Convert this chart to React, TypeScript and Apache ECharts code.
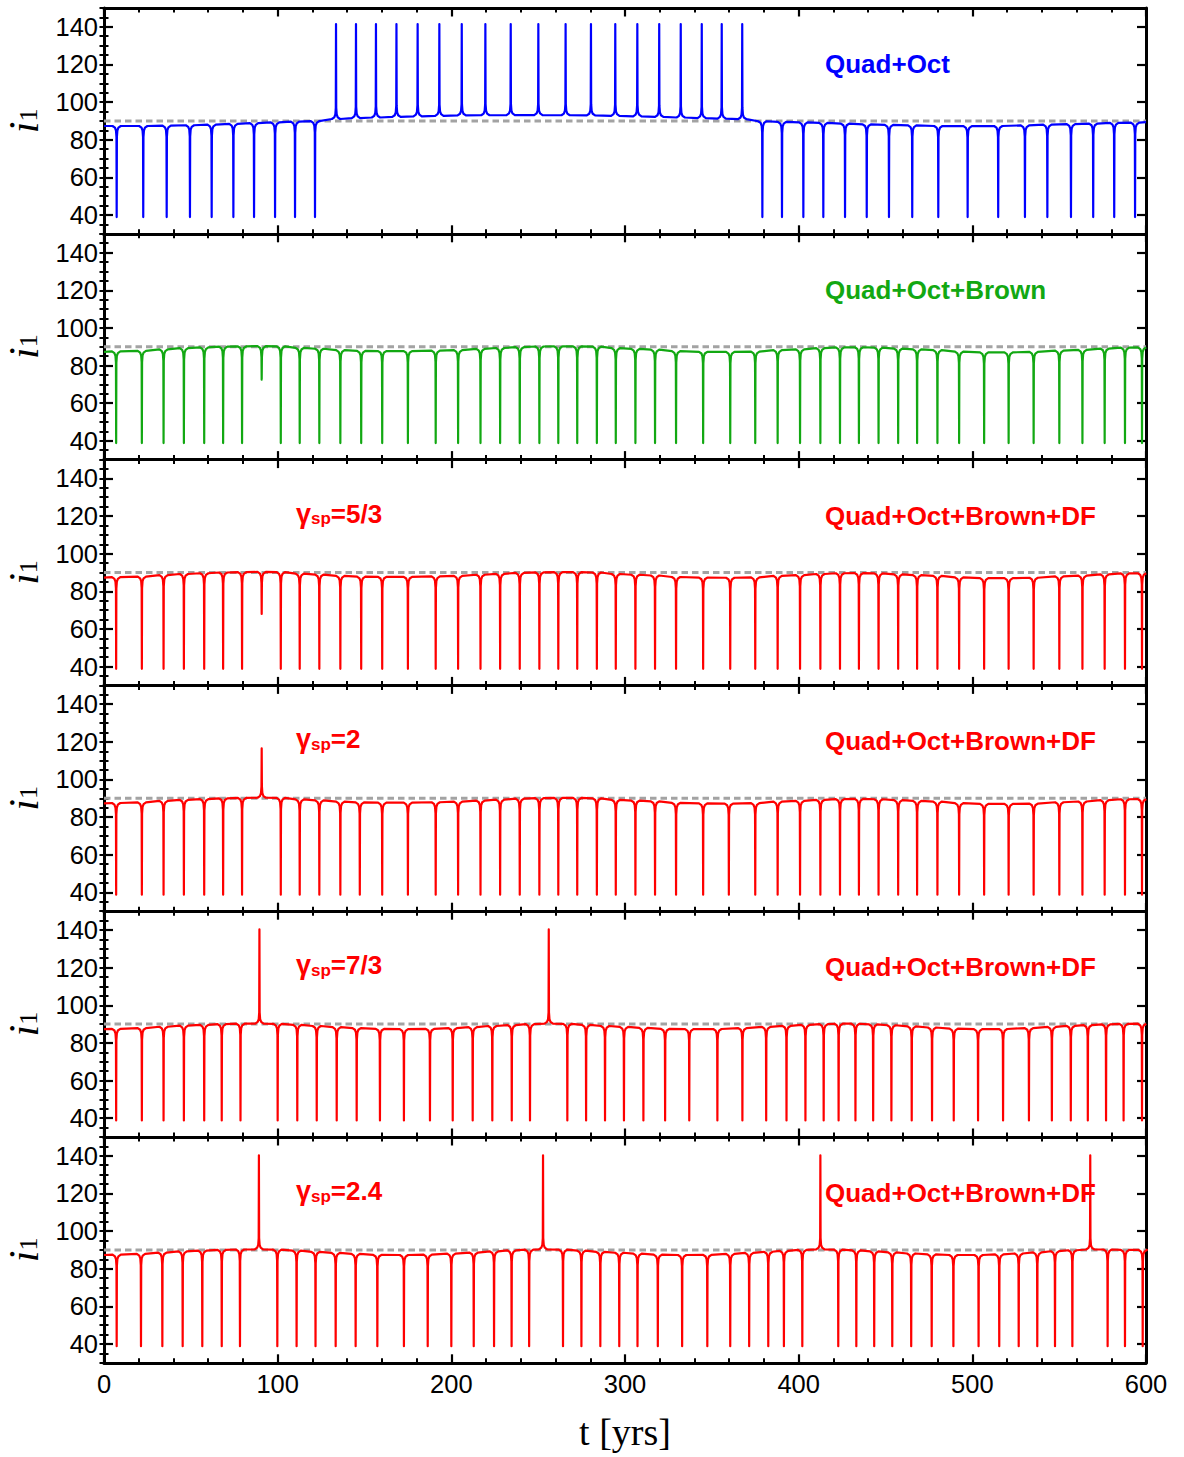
import React, { useEffect, useRef } from "react";
import * as echarts from "echarts";

type Ev = [number, number, number]; // [time, baseline level, extreme value]

const X_MIN = 0;
const X_MAX = 600;
const X_INTERVAL = 100;
const Y_MIN = 30;
const Y_MAX = 150;
const Y_MINOR = 5;
const Y_TICKS = [40, 60, 80, 100, 120, 140];
const REF_LEVEL = 90;

const P1_START = 87.3;
const P1_END = 89.3;
const P1_EVENTS: Ev[] = [
  [7.3, 87.3, 38.9], [22.6, 87.3, 38.9], [36.1, 87.5, 38.9], [49.5, 87.7, 38.9], [62.0, 88.0, 38.9],
  [74.5, 88.4, 38.9], [86.4, 88.8, 38.9], [98.5, 89.2, 38.9], [110.0, 89.6, 38.9], [121.5, 89.9, 38.9],
  [133.6, 91.0, 141.5], [145.1, 91.5, 141.5], [156.6, 91.8, 141.5], [168.4, 92.1, 141.5], [180.6, 92.4, 141.5],
  [193.1, 92.7, 141.5], [206.0, 92.9, 141.5], [219.6, 93.0, 141.5], [234.2, 93.1, 141.5], [250.1, 93.1, 141.5],
  [265.8, 93.0, 141.5], [280.4, 92.9, 141.5], [294.4, 92.7, 141.5], [307.1, 92.4, 141.5], [319.7, 92.1, 141.5],
  [332.1, 91.8, 141.5], [344.2, 91.5, 141.5], [355.7, 91.2, 141.5], [367.5, 90.9, 141.5],
  [379.1, 89.8, 38.9], [390.4, 89.5, 38.9], [402.7, 89.2, 38.9], [414.2, 88.9, 38.9], [426.7, 88.6, 38.9],
  [439.2, 88.2, 38.9], [452.0, 87.9, 38.9], [465.4, 87.6, 38.9], [480.4, 87.3, 38.9], [497.3, 87.2, 38.9],
  [514.9, 87.3, 38.9], [530.3, 87.6, 38.9], [543.2, 88.0, 38.9], [556.8, 88.3, 38.9], [569.6, 88.6, 38.9],
  [581.7, 88.9, 38.9], [593.7, 89.1, 38.9],
];

const P2_START = 87.3;
const P2_END = 89.6;
const P2_EVENTS: Ev[] = [
  [7.0, 87.5, 38.8], [21.8, 87.8, 38.8], [34.3, 88.6, 38.8], [46.0, 89.2, 38.8], [57.7, 89.6, 38.8],
  [68.6, 90.0, 38.8], [79.5, 90.2, 38.8], [90.8, 90.3, 72.5], [101.8, 90.2, 38.8], [112.7, 89.4, 38.8],
  [124.0, 88.9, 38.8], [136.1, 88.2, 38.8], [148.1, 87.8, 38.8], [160.2, 87.7, 38.8], [175.0, 87.7, 38.8],
  [191.0, 87.9, 38.8], [203.9, 88.2, 38.8], [216.8, 88.8, 38.8], [228.1, 89.3, 38.8], [239.4, 89.8, 38.8],
  [250.7, 90.1, 38.8], [261.6, 90.2, 38.8], [272.5, 90.2, 38.8], [283.8, 90.0, 38.8], [294.7, 89.2, 38.8],
  [306.0, 88.8, 38.8], [317.3, 88.4, 38.8], [329.4, 87.6, 38.8], [345.0, 87.3, 38.8], [360.6, 87.2, 38.8],
  [375.0, 87.4, 38.8], [387.9, 88.2, 38.8], [400.8, 88.6, 38.8], [412.5, 89.2, 38.8], [423.8, 89.6, 38.8],
  [434.7, 89.7, 38.8], [446.0, 89.5, 38.8], [457.3, 89.0, 38.8], [468.2, 88.6, 38.8], [479.9, 88.2, 38.8],
  [492.4, 87.4, 38.8], [506.8, 87.0, 38.8], [520.9, 87.0, 38.8], [535.3, 87.2, 38.8], [550.1, 87.9, 38.8],
  [563.4, 88.3, 38.8], [576.2, 89.0, 38.8], [587.9, 89.5, 38.8], [597.7, 89.6, 38.8],
];

const P3_START = 87.3;
const P3_END = 89.6;
const P3_EVENTS: Ev[] = [
  [7.0, 87.5, 38.8], [21.8, 87.8, 38.8], [34.3, 88.6, 38.8], [46.0, 89.2, 38.8], [57.7, 89.6, 38.8],
  [68.6, 90.0, 38.8], [79.5, 90.2, 38.8], [90.8, 90.3, 68.0], [101.8, 90.2, 38.8], [112.7, 89.4, 38.8],
  [124.0, 88.9, 38.8], [136.1, 88.2, 38.8], [148.1, 87.8, 38.8], [160.2, 87.7, 38.8], [175.0, 87.7, 38.8],
  [191.0, 87.9, 38.8], [203.9, 88.2, 38.8], [216.8, 88.8, 38.8], [228.1, 89.3, 38.8], [239.4, 89.8, 38.8],
  [250.7, 90.1, 38.8], [261.6, 90.2, 38.8], [272.5, 90.2, 38.8], [283.8, 90.0, 38.8], [294.7, 89.2, 38.8],
  [306.0, 88.8, 38.8], [317.3, 88.4, 38.8], [329.4, 87.6, 38.8], [345.0, 87.3, 38.8], [360.6, 87.2, 38.8],
  [375.0, 87.4, 38.8], [387.9, 88.2, 38.8], [400.8, 88.6, 38.8], [412.5, 89.2, 38.8], [423.8, 89.6, 38.8],
  [434.7, 89.7, 38.8], [446.0, 89.5, 38.8], [457.3, 89.0, 38.8], [468.2, 88.6, 38.8], [479.9, 88.2, 38.8],
  [492.4, 87.4, 38.8], [506.8, 87.0, 38.8], [520.9, 87.0, 38.8], [535.3, 87.2, 38.8], [550.1, 87.9, 38.8],
  [563.4, 88.3, 38.8], [576.2, 89.0, 38.8], [587.9, 89.5, 38.8], [597.7, 89.6, 38.8],
];

const P4_START = 87.3;
const P4_END = 89.6;
const P4_EVENTS: Ev[] = [
  [7.0, 87.5, 38.8], [21.8, 87.8, 38.8], [34.3, 88.6, 38.8], [46.0, 89.2, 38.8], [57.7, 89.6, 38.8],
  [68.6, 90.0, 38.8], [79.5, 90.2, 38.8], [90.8, 90.3, 116.5], [101.8, 90.2, 38.8], [112.7, 89.4, 38.8],
  [124.0, 88.9, 38.8], [136.1, 88.2, 38.8], [147.3, 87.8, 38.8], [160.2, 87.7, 38.8], [175.0, 87.7, 38.8],
  [191.0, 87.9, 38.8], [203.9, 88.2, 38.8], [216.8, 88.8, 38.8], [228.1, 89.3, 38.8], [239.4, 89.8, 38.8],
  [250.7, 90.1, 38.8], [261.6, 90.2, 38.8], [272.5, 90.2, 38.8], [283.8, 90.0, 38.8], [294.7, 89.2, 38.8],
  [306.0, 88.8, 38.8], [317.3, 88.4, 38.8], [329.4, 87.6, 38.8], [345.0, 87.3, 38.8], [359.8, 87.2, 38.8],
  [375.0, 87.4, 38.8], [387.9, 88.2, 38.8], [400.8, 88.6, 38.8], [412.5, 89.2, 38.8], [423.8, 89.6, 38.8],
  [434.7, 89.7, 38.8], [446.0, 89.5, 38.8], [457.3, 89.0, 38.8], [468.2, 88.6, 38.8], [479.9, 88.2, 38.8],
  [492.4, 87.4, 38.8], [506.8, 87.0, 38.8], [520.9, 87.0, 38.8], [535.3, 87.2, 38.8], [550.1, 87.9, 38.8],
  [563.4, 88.3, 38.8], [576.2, 89.0, 38.8], [587.9, 89.5, 38.8], [597.7, 89.6, 38.8],
];

const P5_START = 87.3;
const P5_END = 90.2;
const P5_EVENTS: Ev[] = [
  [7.0, 87.5, 38.8], [21.8, 87.9, 38.8], [34.3, 88.6, 38.8], [46.0, 89.2, 38.8], [57.7, 89.6, 38.8],
  [67.8, 90.0, 38.8], [78.6, 90.2, 38.8], [89.5, 90.3, 140.3], [100.0, 90.1, 38.8], [111.3, 89.6, 38.8],
  [122.5, 89.0, 38.8], [134.0, 88.4, 38.8], [145.5, 87.9, 38.8], [158.9, 87.5, 38.8], [172.7, 87.3, 38.8],
  [187.7, 87.5, 38.8], [200.8, 87.9, 38.8], [212.3, 88.4, 38.8], [223.6, 89.0, 38.8], [234.8, 89.5, 38.8],
  [245.3, 90.0, 38.8], [256.1, 90.3, 140.3], [266.8, 90.1, 38.8], [277.6, 89.6, 38.8], [288.5, 89.0, 38.8],
  [299.4, 88.5, 38.8], [310.6, 88.0, 38.8], [323.1, 87.5, 38.8], [337.0, 87.3, 38.8], [353.2, 87.4, 38.8],
  [367.6, 87.9, 38.8], [381.3, 88.5, 38.8], [393.0, 89.1, 38.8], [403.9, 89.6, 38.8], [414.4, 90.0, 38.8],
  [423.0, 90.2, 38.8], [432.7, 90.2, 38.8], [442.9, 89.9, 38.8], [453.4, 89.4, 38.8], [465.1, 88.8, 38.8],
  [476.8, 88.2, 38.8], [489.3, 87.6, 38.8], [503.3, 87.3, 38.8], [517.7, 87.4, 38.8], [532.6, 87.9, 38.8],
  [545.8, 88.5, 38.8], [556.7, 89.1, 38.8], [566.5, 89.5, 38.8], [577.0, 89.9, 38.8], [587.1, 90.1, 38.8],
  [597.7, 90.2, 38.8],
];

const P6_START = 87.3;
const P6_END = 90.0;
const P6_EVENTS: Ev[] = [
  [7.3, 87.5, 38.8], [21.3, 87.9, 38.8], [33.6, 88.6, 38.8], [45.3, 89.2, 38.8], [56.6, 89.6, 38.8],
  [67.8, 90.0, 38.8], [78.3, 90.2, 38.8], [89.2, 90.3, 140.3], [99.8, 90.1, 38.8], [110.9, 89.6, 38.8],
  [121.8, 89.0, 38.8], [133.4, 88.4, 38.8], [144.9, 87.9, 38.8], [157.4, 87.4, 38.8], [172.7, 87.3, 38.8],
  [186.4, 87.5, 38.8], [200.0, 88.0, 38.8], [212.9, 88.6, 38.8], [224.6, 89.2, 38.8], [234.7, 89.7, 38.8],
  [244.8, 90.1, 38.8], [252.8, 90.3, 140.3], [264.3, 90.1, 38.8], [274.9, 89.6, 38.8], [285.8, 89.0, 38.8],
  [296.7, 88.5, 38.8], [307.2, 88.0, 38.8], [318.9, 87.5, 38.8], [332.9, 87.3, 38.8], [347.4, 87.4, 38.8],
  [360.6, 87.9, 38.8], [371.5, 88.4, 38.8], [382.5, 89.0, 38.8], [391.5, 89.5, 38.8], [402.1, 90.0, 38.8],
  [412.5, 90.3, 140.3], [422.8, 90.1, 38.8], [433.2, 89.7, 38.8], [443.5, 89.2, 38.8], [453.9, 88.7, 38.8],
  [464.8, 88.1, 38.8], [476.6, 87.6, 38.8], [489.1, 87.3, 38.8], [503.6, 87.3, 38.8], [515.5, 87.6, 38.8],
  [526.7, 88.1, 38.8], [537.4, 88.7, 38.8], [547.6, 89.3, 38.8], [557.6, 89.8, 38.8], [567.9, 90.2, 140.3],
  [577.9, 90.2, 38.8], [587.9, 90.0, 38.8], [598.1, 90.0, 38.8],
];

const BLUE = "#0000ff";
const GREEN = "#12a812";
const RED = "#ff0000";

const PANELS = [
  { events: P1_EVENTS, start: P1_START, end: P1_END, color: BLUE, label: "Quad+Oct", gamma: "" },
  { events: P2_EVENTS, start: P2_START, end: P2_END, color: GREEN, label: "Quad+Oct+Brown", gamma: "" },
  { events: P3_EVENTS, start: P3_START, end: P3_END, color: RED, label: "Quad+Oct+Brown+DF", gamma: "5/3" },
  { events: P4_EVENTS, start: P4_START, end: P4_END, color: RED, label: "Quad+Oct+Brown+DF", gamma: "2" },
  { events: P5_EVENTS, start: P5_START, end: P5_END, color: RED, label: "Quad+Oct+Brown+DF", gamma: "7/3" },
  { events: P6_EVENTS, start: P6_START, end: P6_END, color: RED, label: "Quad+Oct+Brown+DF", gamma: "2.4" },
];

// layout (pixels)
const GRID_LEFT = 104;
const GRID_WIDTH = 1042;
const GRID_TOP0 = 8;
const GRID_H = 225.8;

function buildLine(events: Ev[], start: number, end: number): number[][] {
  const pts: number[][] = [[X_MIN, start]];
  for (const [t, base, ext] of events) {
    const s = ext < base ? -1 : 1;
    pts.push(
      [t - 2.4, base],
      [t - 1.0, base + s * 0.9],
      [t - 0.4, base + s * 2.4],
      [t - 0.12, base + s * 6],
      [t, ext],
      [t + 0.12, base + s * 6],
      [t + 0.4, base + s * 2.4],
      [t + 1.0, base + s * 0.9],
      [t + 2.4, base]
    );
  }
  pts.push([X_MAX, end]);
  return pts;
}

const FRAME = { color: "#000", width: 3 };
const SANS = "'Liberation Sans', Arial, sans-serif";
const SERIF = "'Liberation Serif', 'Times New Roman', serif";

function makeOption() {
  const grid: any[] = [];
  const xAxis: any[] = [];
  const yAxis: any[] = [];
  const series: any[] = [];
  const graphic: any[] = [];

  PANELS.forEach((p, i) => {
    const top = GRID_TOP0 + i * GRID_H;
    grid.push({
      left: GRID_LEFT,
      width: GRID_WIDTH,
      top,
      height: GRID_H,
      containLabel: false,
      outerBoundsMode: "none",
    });
    const last = i === PANELS.length - 1;
    ["bottom", "top"].forEach((pos) => {
      xAxis.push({
        gridIndex: i,
        type: "value",
        min: X_MIN,
        max: X_MAX,
        interval: X_INTERVAL,
        position: pos,
        axisLine: { show: true, onZero: false, lineStyle: FRAME },
        axisTick: { show: true, inside: true, length: 8.5, lineStyle: { color: "#000", width: 2.2 } },
        minorTick: { show: true, splitNumber: 5, length: 4.5, lineStyle: { color: "#000", width: 2 } },
        axisLabel:
          last && pos === "bottom"
            ? { show: true, margin: 8, fontSize: 25.5, fontFamily: SANS, color: "#000", showMinLabel: true, showMaxLabel: true }
            : { show: false },
        splitLine: { show: false },
        name: last && pos === "bottom" ? "t [yrs]" : "",
        nameLocation: "middle",
        nameGap: 50,
        nameTextStyle: { fontFamily: SERIF, fontSize: 38, color: "#000" },
      });
    });
    ["left", "right"].forEach((pos) => {
      yAxis.push({
        gridIndex: i,
        type: "value",
        min: Y_MIN,
        max: Y_MAX,
        position: pos,
        axisLine: { show: true, onZero: false, lineStyle: FRAME },
        axisTick: { show: true, inside: true, length: 9, customValues: Y_TICKS, lineStyle: { color: "#000", width: 2.2 } },
        axisLabel:
          pos === "left"
            ? { show: true, customValues: Y_TICKS, margin: 6, fontSize: 25.5, fontFamily: SANS, color: "#000" }
            : { show: false },
        splitLine: { show: false },
        name: pos === "left" ? "{i|i}{s|1}" : "",
        nameLocation: "middle",
        nameRotate: 90,
        nameGap: 62,
        nameTextStyle: {
          fontFamily: SERIF,
          fontSize: 42,
          fontStyle: "italic",
          lineHeight: 36,
          color: "#000",
          rich: {
            i: { fontFamily: SERIF, fontStyle: "italic", fontSize: 42, lineHeight: 36, color: "#000" },
            s: { fontFamily: SERIF, fontStyle: "normal", fontSize: 26, lineHeight: 26, color: "#000", verticalAlign: "bottom" },
          },
        },
      });
    });
    ["left", "right"].forEach((pos) => {
      yAxis.push({
        gridIndex: i,
        type: "value",
        min: Y_MIN,
        max: Y_MAX,
        interval: Y_MINOR,
        position: pos,
        axisLine: { show: false },
        axisTick: { show: true, inside: true, length: 4.5, lineStyle: { color: "#000", width: 2 } },
        axisLabel: { show: false },
        splitLine: { show: false },
      });
    });

    series.push({
      type: "line",
      xAxisIndex: i * 2,
      yAxisIndex: i * 4,
      data: [[X_MIN, REF_LEVEL], [X_MAX, REF_LEVEL]],
      showSymbol: false,
      symbol: "none",
      silent: true,
      z: 1,
      lineStyle: { color: "#a3a3a3", width: 3, type: [6.5, 4] },
    });
    series.push({
      type: "line",
      xAxisIndex: i * 2,
      yAxisIndex: i * 4,
      data: buildLine(p.events, p.start, p.end),
      showSymbol: false,
      symbol: "none",
      silent: true,
      z: 2,
      lineStyle: { color: p.color, width: 2.2, join: "round" },
    });

    graphic.push({
      type: "text",
      x: 825,
      y: top + 56,
      style: {
        text: p.label,
        fill: p.color,
        font: `bold 26px ${SANS}`,
        verticalAlign: "middle",
      },
      z: 10,
    });
    if (p.gamma) {
      graphic.push({
        type: "text",
        x: 296,
        y: top + 54,
        style: {
          text: `{g|γ}{s|sp}{e|=${p.gamma}}`,
          verticalAlign: "middle",
          rich: {
            g: { fill: p.color, fontFamily: SANS, fontWeight: "bold", fontSize: 27, lineHeight: 27 },
            s: { fill: p.color, fontFamily: SANS, fontWeight: "bold", fontSize: 17, lineHeight: 12, verticalAlign: "bottom" },
            e: { fill: p.color, fontFamily: SANS, fontWeight: "bold", fontSize: 26, lineHeight: 27 },
          },
        },
        z: 10,
      });
    }
  });

  return { animation: false, backgroundColor: "#fff", grid, xAxis, yAxis, series, graphic };
}

export default function App() {
  const ref = useRef<HTMLDivElement>(null);
  useEffect(() => {
    if (!ref.current) return;
    const chart = echarts.init(ref.current, undefined, { renderer: "svg" });
    chart.setOption(makeOption() as any);
    return () => chart.dispose();
  }, []);
  return (
    <div
      ref={ref}
      style={{ position: "absolute", left: 0, top: 0, width: 1184, height: 1457, background: "#fff" }}
    />
  );
}
